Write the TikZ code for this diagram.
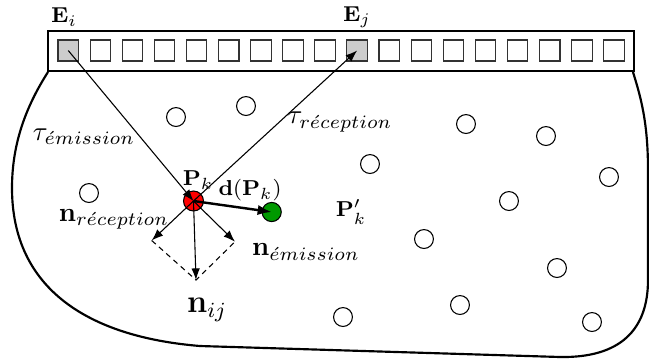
\documentclass[tikz,border=0pt]{standalone}
\usetikzlibrary{arrows.meta}
\begin{document}
\begin{tikzpicture}[x=0.3704pt,y=-0.3704pt,
  thinline/.style={line width=0.4pt},
  tipthin/.style={-{Latex[length=4.3pt,width=3.2pt]}},
  transd/.style={draw=black!80, line width=0.4pt, minimum width=7.6pt, minimum height=7.8pt, inner sep=0pt},
  active/.style={transd, fill=black!20},
  scat/.style={circle, draw, line width=0.4pt, minimum size=7pt, inner sep=0pt},
  lbl/.style={inner sep=0pt}
]
\useasboundingbox (0,0) rectangle (649,362);
% tank
\draw[line width=0.8pt] (48,72) .. controls (25,108) and (12,145) .. (12,188)
  .. controls (12,290) and (90,337) .. (200,346) -- (560,357)
  .. controls (620,358) and (648,330) .. (648,280) -- (648,170)
  .. controls (648,120) and (640,95) .. (633,72);
% probe bar
\draw[line width=0.75pt, fill=white] (47.6,30.7) rectangle (634,70.7);
\foreach \k in {1,...,18}{
  \ifnum\k=1 \def\st{active}\else\ifnum\k=10 \def\st{active}\else\def\st{transd}\fi\fi
  \node[\st] (sq\k) at ({68.25+32.1*(\k-1)}, 50.5) {};
}
% scatterers
\foreach \i/\x/\y in {1/176/117, 2/246/106, 3/89/193, 4/370/164, 5/466/124, 6/546/136,
  7/609/177, 8/509/201, 9/424/239, 10/557/268, 11/460/305, 12/343/317, 13/592/322}{
  \node[scat] (s\i) at (\x,\y) {};
}
% points
\node[circle, draw, fill=red, line width=0.4pt, minimum size=7.4pt, inner sep=0pt] (pk) at (193.5,201) {};
\node[circle, draw, fill=green!60!black, line width=0.4pt, minimum size=7.1pt, inner sep=0pt] (pkp) at (271.7,212) {};
% rays
\draw[thinline, tipthin] (sq1.center) -- (pk.center);
\draw[thinline, tipthin] (pk.center) -- (sq10.center);
% normals
\coordinate (nr) at (151.7,240.5);
\coordinate (nij) at (196,280);
\coordinate (ne) at (235,241.7);
\draw[thinline, tipthin] (pk.center) -- (nr);
\draw[thinline, tipthin] (pk.center) -- (nij);
\draw[thinline, tipthin] (pk.center) -- (ne);
\draw[thinline, dashed, dash pattern=on 2pt off 1.6pt] (nr) -- (nij) -- (ne);
% displacement
\draw[line width=0.9pt, -{Latex[length=5.2pt,width=3.8pt]}] (pk.center) -- (pkp.center);
% labels
\node[lbl] (lei) at (64,17) {\footnotesize$\mathbf{E}_i$};
\node[lbl] (lej) at (357,17) {\footnotesize$\mathbf{E}_j$};
\node[lbl] (lte) at (84,137) {$\tau_{\acute{e}mission}$};
\node[lbl] (ltr) at (340,122) {$\tau_{r\acute{e}ception}$};
\node[lbl] (lpk) at (198,180) {\footnotesize$\mathbf{P}_k$};
\node[lbl] (ld) at (250,190) {\footnotesize$\mathbf{d}(\mathbf{P}_k)$};
\node[lbl] (lpkp) at (351,212) {\footnotesize$\mathbf{P}'_k$};
\node[lbl] (lnr) at (114,219) {$\mathbf{n}_{r\acute{e}ception}$};
\node[lbl] (lne) at (306,252) {$\mathbf{n}_{\acute{e}mission}$};
\node[lbl] (lnij) at (207,310) {\large$\mathbf{n}_{ij}$};
\end{tikzpicture}
\end{document}
